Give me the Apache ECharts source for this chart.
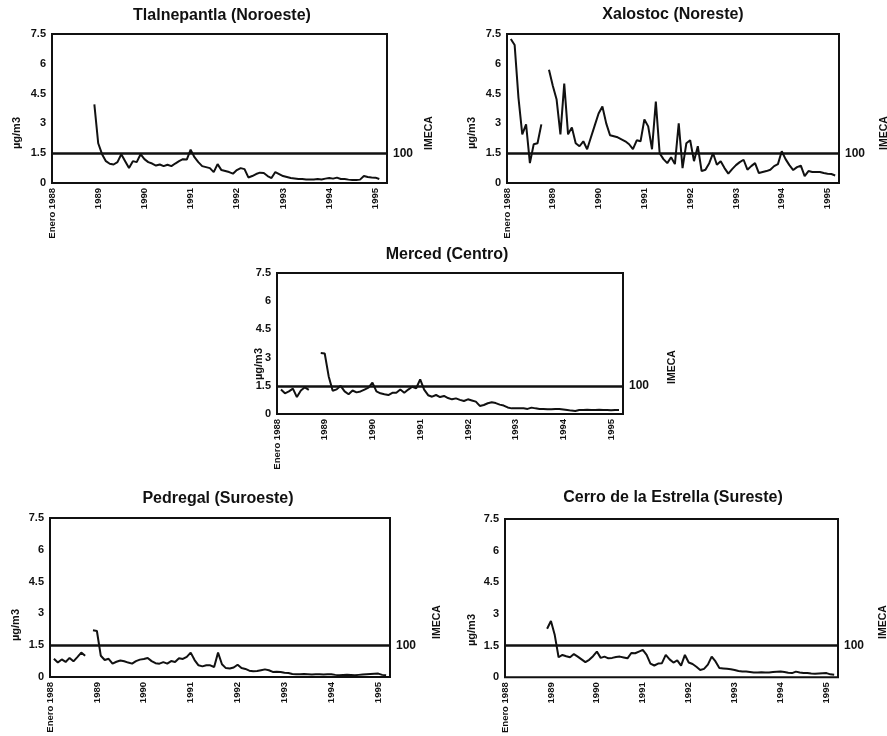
<!DOCTYPE html>
<html>
<head>
<meta charset="utf-8">
<script src="https://cdn.jsdelivr.net/npm/echarts@6/dist/echarts.min.js"></script>
<style>
  html, body { margin: 0; padding: 0; background: #fff; }
  #chart { width: 887px; height: 736px; }
</style>
</head>
<body>
<div id="chart"></div>
<script>
// Monthly lead concentrations (µg/m3), January 1988 – April 1995; null = no measurement.
const yearLabels = ['Enero 1988', '1989', '1990', '1991', '1992', '1993', '1994', '1995'];

const months = [];
for (let y = 1988; y <= 1995; y++) {
  for (let m = 1; m <= 12; m++) months.push(y + '-' + (m < 10 ? '0' : '') + m);
}
const categories = months.slice(0, 88);

const tlalnepantla = [
  null, null, null, null, null, null, null, null, null, null, null, 3.96,
  2.0, 1.45, 1.1, 0.97, 0.93, 1.05, 1.45, 1.1, 0.75, 1.1, 1.05, 1.45,
  1.2, 1.05, 0.98, 0.88, 0.93, 0.85, 0.92, 0.85, 0.98, 1.1, 1.2, 1.18,
  1.68, 1.3, 1.05, 0.85, 0.8, 0.75, 0.55, 0.95, 0.65, 0.6, 0.55, 0.47,
  0.65, 0.75, 0.7, 0.28, 0.35, 0.45, 0.52, 0.5, 0.35, 0.25, 0.55, 0.45,
  0.35, 0.3, 0.25, 0.23, 0.2, 0.2, 0.18, 0.18, 0.18, 0.2, 0.18, 0.22,
  0.25, 0.22, 0.27, 0.2, 0.2, 0.17, 0.15, 0.15, 0.17, 0.35, 0.3, 0.28,
  0.27, 0.2, null, null
];

const xalostoc = [
  null, 7.25, 6.95, 4.3, 2.45, 2.95, 1.0, 1.95, 2.0, 2.95, null, 5.7,
  4.9, 4.2, 2.45, 5.0, 2.45, 2.8, 2.0, 1.85, 2.1, 1.7, 2.3, 2.9,
  3.5, 3.85, 3.0, 2.4, 2.35, 2.3, 2.2, 2.1, 1.95, 1.7, 2.15, 2.1,
  3.2, 2.85, 1.7, 4.1, 1.5, 1.2, 1.0, 1.3, 0.95, 3.0, 0.75, 2.0,
  2.15, 1.1, 1.85, 0.6, 0.67, 1.0, 1.5, 0.92, 1.1, 0.75, 0.47, 0.7,
  0.9, 1.05, 1.17, 0.67, 0.85, 1.0, 0.5, 0.55, 0.6, 0.67, 0.85, 0.95,
  1.6, 1.2, 0.9, 0.65, 0.8, 0.87, 0.35, 0.6, 0.55, 0.55, 0.55, 0.5,
  0.47, 0.45, 0.38, null
];

const merced = [
  null, 1.3, 1.1, 1.2, 1.35, 0.9, 1.25, 1.42, 1.28, null, null, 3.25,
  3.22, 2.0, 1.24, 1.31, 1.5, 1.2, 1.05, 1.25, 1.15, 1.2, 1.3, 1.4,
  1.67, 1.2, 1.1, 1.05, 1.01, 1.13, 1.13, 1.3, 1.13, 1.3, 1.45, 1.37,
  1.84, 1.3, 1.0, 0.92, 1.01, 0.9, 0.96, 0.85, 0.78, 0.83, 0.75, 0.69,
  0.78, 0.72, 0.66, 0.43, 0.48, 0.57, 0.62, 0.58, 0.5, 0.45, 0.35, 0.3,
  0.3, 0.3, 0.3, 0.27, 0.34, 0.3, 0.27, 0.27, 0.25, 0.25, 0.27, 0.27,
  0.24, 0.21, 0.18, 0.16, 0.21, 0.21, 0.22, 0.21, 0.21, 0.22, 0.21, 0.21,
  0.2, 0.21, 0.21, null
];

const pedregal = [
  null, 0.86, 0.68, 0.83, 0.71, 0.9, 0.74, 0.94, 1.15, 1.0, null, 2.2,
  2.17, 1.0, 0.8, 0.86, 0.63, 0.72, 0.78, 0.74, 0.68, 0.63, 0.75, 0.82,
  0.85, 0.9, 0.75, 0.65, 0.63, 0.7, 0.63, 0.75, 0.71, 0.88, 0.85, 0.95,
  1.15, 0.8, 0.55, 0.5, 0.55, 0.55, 0.47, 1.15, 0.6, 0.42, 0.4, 0.45,
  0.58, 0.42, 0.38, 0.3, 0.27, 0.28, 0.32, 0.36, 0.32, 0.24, 0.25, 0.24,
  0.2, 0.19, 0.14, 0.13, 0.13, 0.14, 0.13, 0.12, 0.13, 0.13, 0.12, 0.13,
  0.13, 0.1, 0.08, 0.1, 0.11, 0.1, 0.08, 0.1, 0.12, 0.13, 0.14, 0.15,
  0.16, 0.1, 0.08, null
];

const cerroEstrella = [
  null, null, null, null, null, null, null, null, null, null, null, 2.3,
  2.67, 2.0, 0.95, 1.06, 1.0, 0.95, 1.1, 0.98, 0.85, 0.72, 0.83, 1.0,
  1.22, 0.92, 0.98, 0.9, 0.92, 0.96, 0.98, 0.94, 0.9, 1.15, 1.14, 1.22,
  1.3, 1.06, 0.65, 0.56, 0.65, 0.67, 1.06, 0.85, 0.7, 0.8, 0.55, 1.06,
  0.7, 0.63, 0.5, 0.35, 0.4, 0.6, 0.98, 0.75, 0.44, 0.42, 0.4, 0.38,
  0.35, 0.3, 0.28, 0.27, 0.25, 0.23, 0.23, 0.24, 0.23, 0.23, 0.25, 0.26,
  0.27, 0.25, 0.22, 0.2, 0.27, 0.23, 0.2, 0.2, 0.18, 0.17, 0.18, 0.19,
  0.2, 0.14, 0.12, null
];

// Norm level: 1.5 µg/m3 corresponds to 100 IMECA points
const normLevel = 1.5;
const imecaLabel = '100';

const FONT = '"Liberation Sans", Arial, sans-serif';

const panels = [
  { name: 'Tlalnepantla (Noroeste)', data: tlalnepantla,
    grid: { left: 52, top: 34, width: 335, height: 149 },
    titleX: 222, titleY: 8, unitX: 17, unitY: 133, imecaX: 429, imecaY: 133 },
  { name: 'Xalostoc (Noreste)', data: xalostoc,
    grid: { left: 507, top: 34, width: 332, height: 149 },
    titleX: 673, titleY: 7, unitX: 472, unitY: 133, imecaX: 884, imecaY: 133 },
  { name: 'Merced (Centro)', data: merced,
    grid: { left: 277, top: 273, width: 346, height: 141 },
    titleX: 447, titleY: 247, unitX: 259, unitY: 364, imecaX: 672, imecaY: 367 },
  { name: 'Pedregal (Suroeste)', data: pedregal,
    grid: { left: 50, top: 518, width: 340, height: 159 },
    titleX: 218, titleY: 491, unitX: 16, unitY: 625, imecaX: 437, imecaY: 622 },
  { name: 'Cerro de la Estrella (Sureste)', data: cerroEstrella,
    grid: { left: 505, top: 519, width: 333, height: 160 },
    titleX: 673, titleY: 490, unitX: 472, unitY: 630, imecaX: 883, imecaY: 622 }
];

const option = {
  backgroundColor: '#ffffff',
  animation: false,
  title: [],
  grid: [],
  xAxis: [],
  yAxis: [],
  series: [],
  graphic: []
};

panels.forEach((p, i) => {
  option.title.push({
    text: p.name, left: p.titleX, top: p.titleY, textAlign: 'center', padding: 0,
    textStyle: { fontFamily: FONT, fontSize: 16, fontWeight: 'bold', color: '#111' }
  });
  option.grid.push(Object.assign({
    show: true, borderColor: '#111', borderWidth: 2, backgroundColor: 'transparent',
    containLabel: false
  }, p.grid));
  option.xAxis.push({
    type: 'category', gridIndex: i, data: categories, boundaryGap: false,
    axisLine: { show: false }, axisTick: { show: false }, splitLine: { show: false },
    axisLabel: {
      rotate: 90, margin: 5, fontFamily: FONT, fontSize: 9.5, fontWeight: 'bold', color: '#111',
      interval: (idx) => idx % 12 === 0,
      formatter: (val, idx) => yearLabels[Math.round(idx / 12)]
    }
  });
  option.yAxis.push({
    type: 'value', gridIndex: i, min: 0, max: 7.5, interval: 1.5,
    axisLine: { show: false }, axisTick: { show: false }, splitLine: { show: false },
    axisLabel: { margin: 6, fontFamily: FONT, fontSize: 11, fontWeight: 'bold', color: '#111' }
  });
  option.series.push({
    type: 'line', xAxisIndex: i, yAxisIndex: i, data: p.data,
    showSymbol: false, connectNulls: false,
    lineStyle: { color: '#111', width: 2 },
    markLine: {
      silent: true, symbol: ['none', 'none'],
      lineStyle: { color: '#111', width: 2.5, type: 'solid' },
      label: { show: true, position: 'end', formatter: imecaLabel, distance: 6,
               fontFamily: FONT, fontSize: 12, fontWeight: 'bold', color: '#111' },
      data: [{ yAxis: normLevel }]
    }
  });
  option.graphic.push({
    type: 'text', x: p.unitX, y: p.unitY, rotation: Math.PI / 2,
    style: { text: 'µg/m3', fontFamily: FONT, fontSize: 11, fontWeight: 'bold',
             fill: '#111', textAlign: 'center', textVerticalAlign: 'middle' }
  });
  option.graphic.push({
    type: 'text', x: p.imecaX, y: p.imecaY, rotation: Math.PI / 2,
    style: { text: 'IMECA', fontFamily: FONT, fontSize: 10.5, fontWeight: 'bold',
             fill: '#111', textAlign: 'center', textVerticalAlign: 'middle' }
  });
});

const chart = echarts.init(document.getElementById('chart'), null, { renderer: 'canvas' });
chart.setOption(option);
</script>
</body>
</html>
